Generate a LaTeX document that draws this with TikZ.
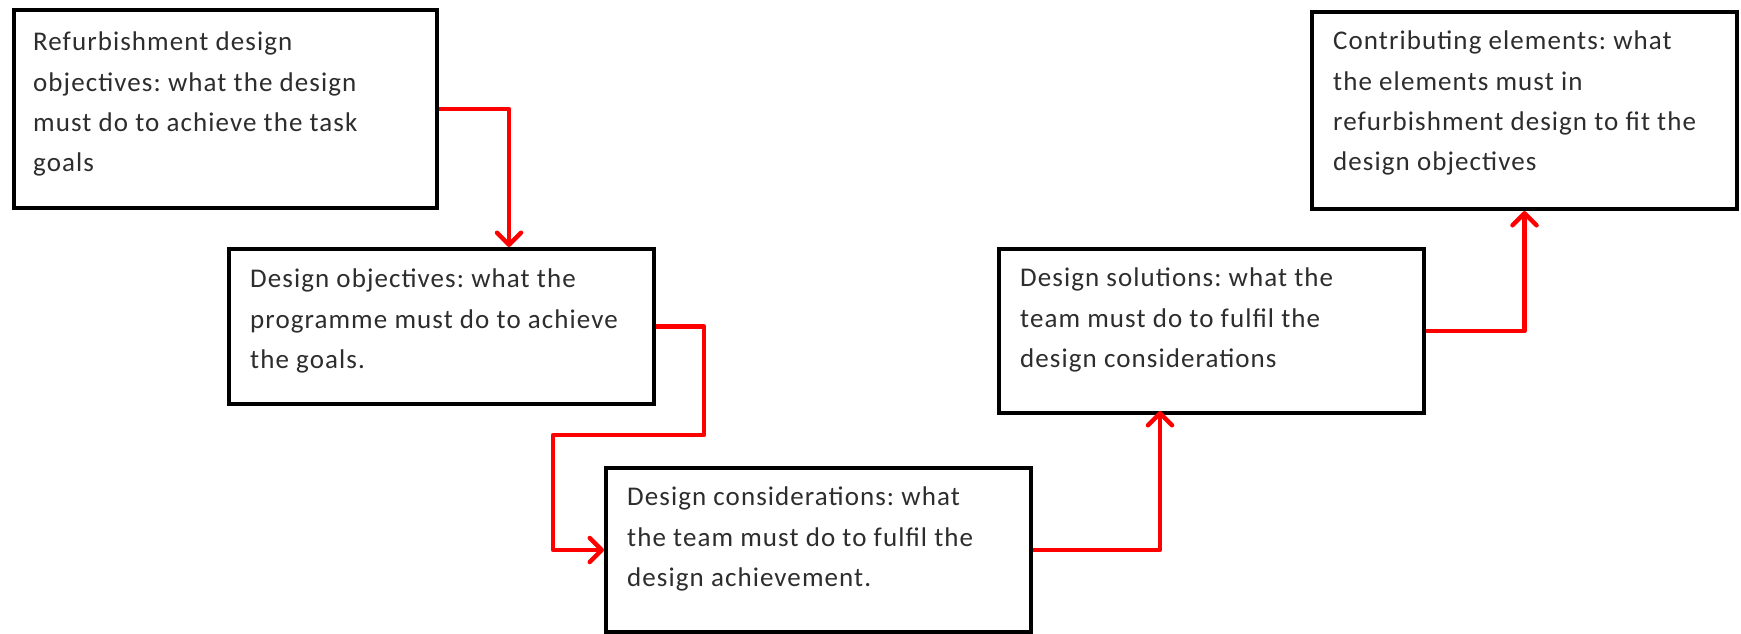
\documentclass[tikz,border=0pt]{standalone}
\usepackage{fontspec}
\setmainfont[LetterSpace=4]{Carlito}
\usetikzlibrary{arrows.meta,calc}
\definecolor{arrred}{RGB}{255,0,0}
\definecolor{txtgray}{RGB}{45,45,45}
\frenchspacing
\begin{document}
\begin{tikzpicture}[x=1pt,y=-1pt,
  boxnode/.style={draw=black, line width=4pt, fill=white, anchor=north west, inner sep=0pt, minimum width=425pt},
  txtnode/.style={anchor=north west, inner sep=0pt, align=left, text=txtgray, font=\fontsize{27}{40.2}\selectfont},
  flow/.style={draw=arrred, line width=4.5pt, line join=round, -{Straight Barb[length=12pt,width=24pt,line cap=round,line join=round]}}
]
\useasboundingbox (0,0) rectangle (1741,633);
% boxes
\node[boxnode, minimum width=423pt, minimum height=198pt] (b1) at (12,8) {};
\node[boxnode, minimum height=155pt] (b2) at (227,247) {};
\node[boxnode, minimum height=164pt] (b3) at (604,466) {};
\node[boxnode, minimum height=164pt] (b4) at (997,247) {};
\node[boxnode, minimum height=197pt] (b5) at (1310,10) {};
% texts
\node[txtnode] (t1) at ($(b1.north west)+(21,24)$) {Refurbishment design\\objectives: what the design\\must do to achieve the task\\goals};
\node[txtnode] (t2) at ($(b2.north west)+(23,22)$) {Design objectives: what the\\programme must do to achieve\\the goals.};
\node[txtnode] (t3) at ($(b3.north west)+(23,21)$) {Design considerations: what\\the team must do to fulfil the\\design achievement.};
\node[txtnode] (t4) at ($(b4.north west)+(23,21)$) {Design solutions: what the\\team must do to fulfil the\\design considerations};
\node[txtnode] (t5) at ($(b5.north west)+(23,21)$) {Contributing elements: what\\the elements must in\\refurbishment design to fit the\\design objectives};
% connector helper points
\coordinate (k1) at (509,247);
\coordinate (j1) at (704,435);
\coordinate (j2) at (553,435);
\coordinate (k3) at (1160,411);
% connectors
\draw[flow] (b1.east) -| (k1);
\draw[flow] (b2.east) -| (j1) -- (j2) |- (b3.west);
\draw[flow] (b3.east) -| (k3);
\draw[flow] (b4.east) -| (b5.south);
\end{tikzpicture}
\end{document}
